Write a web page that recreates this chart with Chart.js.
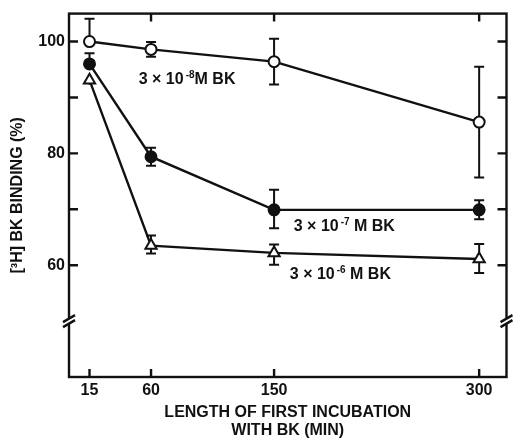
<!DOCTYPE html>
<html lang="en">
<head>
<meta charset="utf-8">
<title>[3H] BK binding</title>
<script src="https://cdn.jsdelivr.net/npm/chart.js@4.4.1/dist/chart.umd.min.js"></script>
<style>
html, body { margin: 0; padding: 0; background: #fff; }
</style>
</head>
<body>
<canvas id="chart" width="515" height="441"></canvas>
<script>
// incubation times (min) and tick values
const minutes = [15, 60, 150, 300];
const xTicks = [15, 60, 150, 300];
const yTicks = [60, 70, 80, 90, 100];
const yLabelled = [60, 80, 100];

// 3 x 10^-8 M BK (open circles)
const bk8 = [100.0, 98.6, 96.4, 85.6];
const bk8ErrUp = [4.1, 1.3, 4.1, 9.9];
const bk8ErrDown = [0.0, 1.3, 4.1, 9.9];

// 3 x 10^-7 M BK (filled circles)
const bk7 = [96.0, 79.4, 69.9, 69.9];
const bk7ErrUp = [1.9, 1.6, 3.6, 1.7];
const bk7ErrDown = [1.0, 1.6, 3.3, 1.7];

// 3 x 10^-6 M BK (open triangles)
const bk6 = [93.1, 63.5, 62.2, 61.1];
const bk6ErrUp = [0.8, 1.8, 1.5, 2.7];
const bk6ErrDown = [0.8, 1.4, 2.1, 2.5];

const labelExp = ['-8', '-7', '-6'];
const labelTail = ['M BK', ' M BK', ' M BK'];

const ink = '#111';
const fam = '"Liberation Sans", Arial, sans-serif';
const yBreak = 50;
const lw = 2.4;

// where the series labels sit, in data units (left edge, baseline)
const labelAt = [[51, 92.4], [164.4, 66.2], [161.5, 57.6]];

function series(values, up, down, style, fill, radius) {
  return {
    data: minutes.map((m, i) => ({x: m, y: values[i]})),
    errUp: up,
    errDown: down,
    showLine: true,
    borderColor: ink,
    borderWidth: lw,
    pointStyle: style,
    pointRadius: radius,
    pointBackgroundColor: fill,
    pointBorderColor: ink,
    pointBorderWidth: 2
  };
}

const frame = {
  id: 'frame',
  beforeDatasetsDraw(chart) {
    const {ctx, chartArea: a, scales: {x, y}} = chart;
    ctx.save();
    ctx.strokeStyle = ink;
    ctx.lineWidth = lw;
    ctx.strokeRect(a.left, a.top, a.right - a.left, a.bottom - a.top);
    ctx.beginPath();
    yTicks.forEach(v => {
      const py = y.getPixelForValue(v);
      ctx.moveTo(a.left, py); ctx.lineTo(a.left + 9, py);
      ctx.moveTo(a.right, py); ctx.lineTo(a.right - 9, py);
    });
    xTicks.forEach(v => {
      const px = x.getPixelForValue(v);
      ctx.moveTo(px, a.bottom); ctx.lineTo(px, a.bottom - 8);
      if (v !== 15) { ctx.moveTo(px, a.top); ctx.lineTo(px, a.top + 8); }
    });
    ctx.stroke();
    // axis breaks
    const pb = y.getPixelForValue(yBreak);
    [a.left, a.right].forEach(ax => {
      ctx.fillStyle = '#fff';
      ctx.fillRect(ax - 2, pb - 3, 4, 6);
      ctx.beginPath();
      ctx.moveTo(ax - 6, pb + 1); ctx.lineTo(ax + 6, pb - 6);
      ctx.moveTo(ax - 6, pb + 6); ctx.lineTo(ax + 6, pb - 1);
      ctx.stroke();
    });
    ctx.restore();
  }
};

const errorBars = {
  id: 'errorBars',
  beforeDatasetsDraw(chart) {
    const {ctx, scales: {x, y}} = chart;
    ctx.save();
    ctx.strokeStyle = ink;
    ctx.lineWidth = 2;
    chart.data.datasets.forEach(ds => {
      ds.data.forEach((p, i) => {
        const px = x.getPixelForValue(p.x);
        const top = y.getPixelForValue(p.y + ds.errUp[i]);
        const bot = y.getPixelForValue(p.y - ds.errDown[i]);
        ctx.beginPath();
        ctx.moveTo(px, top); ctx.lineTo(px, bot);
        if (ds.errUp[i] > 1) { ctx.moveTo(px - 5, top); ctx.lineTo(px + 5, top); }
        if (ds.errDown[i] > 1) { ctx.moveTo(px - 5, bot); ctx.lineTo(px + 5, bot); }
        ctx.stroke();
      });
    });
    ctx.restore();
  }
};

const seriesLabels = {
  id: 'seriesLabels',
  afterDraw(chart) {
    const {ctx, scales: {x, y}} = chart;
    ctx.save();
    ctx.fillStyle = ink;
    ctx.textBaseline = 'alphabetic';
    labelAt.forEach((pos, i) => {
      let px = x.getPixelForValue(pos[0]);
      const py = y.getPixelForValue(pos[1]);
      ctx.font = 'bold 16px ' + fam;
      ctx.fillText('3 \u00d7 10', px, py);
      px += ctx.measureText('3 \u00d7 10').width + 2;
      ctx.font = 'bold 10px ' + fam;
      ctx.fillText(labelExp[i], px, py - 6);
      px += ctx.measureText(labelExp[i]).width;
      ctx.font = 'bold 16px ' + fam;
      ctx.fillText(labelTail[i], px, py);
    });
    ctx.restore();
  }
};

new Chart(document.getElementById('chart'), {
  type: 'scatter',
  data: {
    datasets: [
      series(bk8, bk8ErrUp, bk8ErrDown, 'circle', '#fff', 5.5),
      series(bk7, bk7ErrUp, bk7ErrDown, 'circle', ink, 5.5),
      series(bk6, bk6ErrUp, bk6ErrDown, 'triangle', '#fff', 6.5)
    ]
  },
  options: {
    responsive: false,
    animation: false,
    devicePixelRatio: 1,
    layout: {padding: {top: 12, right: 6, left: 0, bottom: 0}},
    plugins: {legend: {display: false}, tooltip: {enabled: false}},
    scales: {
      x: {
        type: 'linear',
        min: 0,
        max: 320,
        grid: {display: false, drawTicks: false},
        border: {display: false},
        afterBuildTicks: s => { s.ticks = xTicks.map(v => ({value: v})); },
        afterFit: s => { s.height = 64; },
        ticks: {color: ink, padding: 4, maxRotation: 0, autoSkip: false,
                font: {family: fam, size: 16, weight: 'bold'}},
        title: {display: true, color: ink,
                text: ['LENGTH OF FIRST INCUBATION', 'WITH BK (MIN)'],
                font: {family: fam, size: 16, weight: 'bold', lineHeight: 1.15},
                padding: {top: 0, bottom: 1}}
      },
      y: {
        min: 40,
        max: 105,
        grid: {display: false, drawTicks: false},
        border: {display: false},
        afterBuildTicks: s => { s.ticks = yTicks.map(v => ({value: v})); },
        afterFit: s => { s.width = 69; },
        ticks: {color: ink, padding: 4, autoSkip: false,
                callback: v => yLabelled.includes(v) ? String(v) : '',
                font: {family: fam, size: 16, weight: 'bold'}},
        title: {display: true, color: ink, text: '[\u00b3H] BK BINDING (%)',
                font: {family: fam, size: 16, weight: 'bold'},
                padding: {top: 8}}
      }
    }
  },
  plugins: [frame, errorBars, seriesLabels]
});
</script>
</body>
</html>
